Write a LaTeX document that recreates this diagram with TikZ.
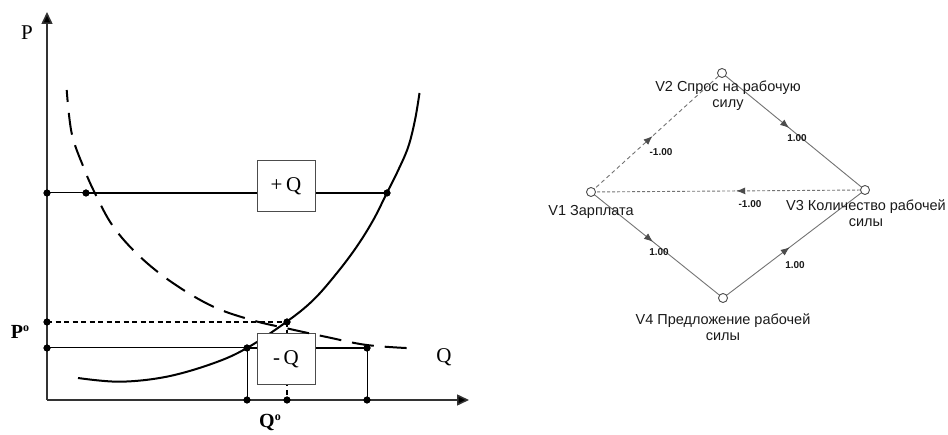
\documentclass[tikz,border=0pt]{standalone}
\usepackage{fontspec}
\setmainfont{Liberation Serif}
\newfontfamily\arialf{Liberation Sans}
\usetikzlibrary{arrows.meta,decorations.markings}
\begin{document}
\begin{tikzpicture}[x=1pt,y=-1pt,
  dot/.style={circle,fill=black,inner sep=0pt,minimum size=7pt},
  axisln/.style={line width=1.5pt,draw=black!80,-{Triangle[length=12pt,width=11pt,fill=black]}},
  thinln/.style={line width=1pt},
  thickln/.style={line width=2pt},
  qbox/.style={draw=black!70,fill=white,line width=1pt,minimum width=58pt,minimum height=51pt,inner sep=0pt},
  serifbig/.style={font=\fontsize{21}{23}\selectfont},
  vnode/.style={circle,draw=black!70,fill=white,line width=0.9pt,minimum size=9pt,inner sep=0pt},
  vlabel/.style={font=\arialf\fontsize{14.5}{16}\selectfont,text=black!90,align=center,inner sep=0pt},
  wlabel/.style={font=\arialf\bfseries\fontsize{10}{11}\selectfont,text=black!90,inner sep=0pt},
  edgeln/.style={color=black!55,line width=0.9pt,postaction={decorate},
    decoration={markings,mark=at position 0.47 with {\arrow[black!70]{Latex[length=9pt,width=7pt]}}}},
]
\useasboundingbox (0,0) rectangle (948,435);

% ---------- left chart ----------
\coordinate (O) at (47,400);
\coordinate (ytip) at (47,12);
\coordinate (xtip) at (469,400);
\draw[axisln] (O) -- (ytip);
\draw[axisln] (O) -- (xtip);

\node[dot] (a1) at (47,193) {};
\node[dot] (a2) at (86,193) {};
\node[dot] (a3) at (387,193) {};
\node[dot] (p0) at (47,322) {};
\node[dot] (e) at (287,322) {};
\node[dot] (b1) at (47,348) {};
\node[dot] (b2) at (247,348) {};
\node[dot] (b3) at (367,348) {};
\node[dot] (c1) at (247,400) {};
\node[dot] (c2) at (287,400) {};
\node[dot] (c3) at (367,400) {};

\draw[thinln] (a1.center) -- (a2.center);
\draw[thickln] (a2.center) -- (a3.center);
\draw[thinln] (b1.center) -- (b2.center);
\draw[thickln] (b2.center) -- (b3.center);
\draw[thinln] (b2.center) -- (c1.center);
\draw[thinln] (b3.center) -- (c3.center);
\draw[line width=1.2pt,dash pattern=on 5pt off 3.5pt] (p0.center) -- (e.center);
\draw[line width=1.2pt,dash pattern=on 5pt off 3.5pt] (e.center) -- (c2.center);

\draw[thickln] plot[smooth,tension=0.6] coordinates {(78,378) (120,381.7) (166.7,376.7) (213.3,363.3) (247,348) (286.7,321.7) (313.3,300) (336.7,273.3) (356.7,246.7) (373.3,220) (386.7,193.3) (398.3,170) (408.3,146.7) (415,120) (419.5,93)};

\node[qbox] (plusq) at (286,186.5) {\raisebox{4pt}{\fontsize{21}{23}\selectfont +\,Q}\hspace{9pt}};
\node[qbox] (minusq) at (286,359) {\raisebox{2pt}{\fontsize{21}{23}\selectfont -\,Q}\hspace{12pt}};

\draw[thickln,dash pattern=on 22pt off 11pt,dash phase=10pt] plot[smooth,tension=0.6] coordinates {(66.7,90) (71.7,133.3) (83.3,166.7) (95,193.3) (113.3,226.7) (140,256.7) (173.3,283.3) (213.3,306.7) (253.3,320.5) (286.7,328.3) (326.7,337) (366.7,345) (411.7,348.3)};

\foreach \d in {a1,a2,a3,p0,e,b1,b2,b3,c1,c2,c3} {\fill (\d) circle (3.5pt);}

\node[serifbig] (Plab) at (27,33) {P};
\node[serifbig] (Qlab) at (444,357) {Q};
\node[font=\fontsize{20}{22}\selectfont\bfseries] (P0lab) at (20,332) {P\raisebox{7pt}{\fontsize{12}{13}\selectfont o}};
\node[font=\fontsize{20}{22}\selectfont\bfseries] (Q0lab) at (270,423) {Q\raisebox{7pt}{\fontsize{12}{13}\selectfont o}};

% ---------- right graph ----------
\coordinate (v1c) at (591,192);
\coordinate (v2c) at (722,73);
\coordinate (v3c) at (865,190);
\coordinate (v4c) at (723,298);

\draw[edgeln,dash pattern=on 4pt off 3pt] (v1c) -- (v2c);
\draw[edgeln] (v2c) -- (v3c);
\draw[edgeln,dash pattern=on 3pt off 2pt] (v3c) -- (v1c);
\draw[edgeln] (v1c) -- (v4c);
\draw[edgeln] (v4c) -- (v3c);

\node[vnode] (v1) at (v1c) {};
\node[vnode] (v2) at (v2c) {};
\node[vnode] (v3) at (v3c) {};
\node[vnode] (v4) at (v4c) {};

\node[vlabel] (l2) at (728,96) {V2 Спрос на рабочую\\силу};
\node[vlabel] (l1) at (591,212) {V1 Зарплата};
\node[vlabel] (l3) at (866,213) {V3 Количество рабочей\\силы};
\node[vlabel] (l4) at (723,327) {V4 Предложение рабочей\\силы};

\node[wlabel] (w12) at (661,152) {-1.00};
\node[wlabel] (w23) at (797,138) {1.00};
\node[wlabel] (w31) at (750,204) {-1.00};
\node[wlabel] (w14) at (659,252) {1.00};
\node[wlabel] (w43) at (795,265) {1.00};
\end{tikzpicture}
\end{document}
